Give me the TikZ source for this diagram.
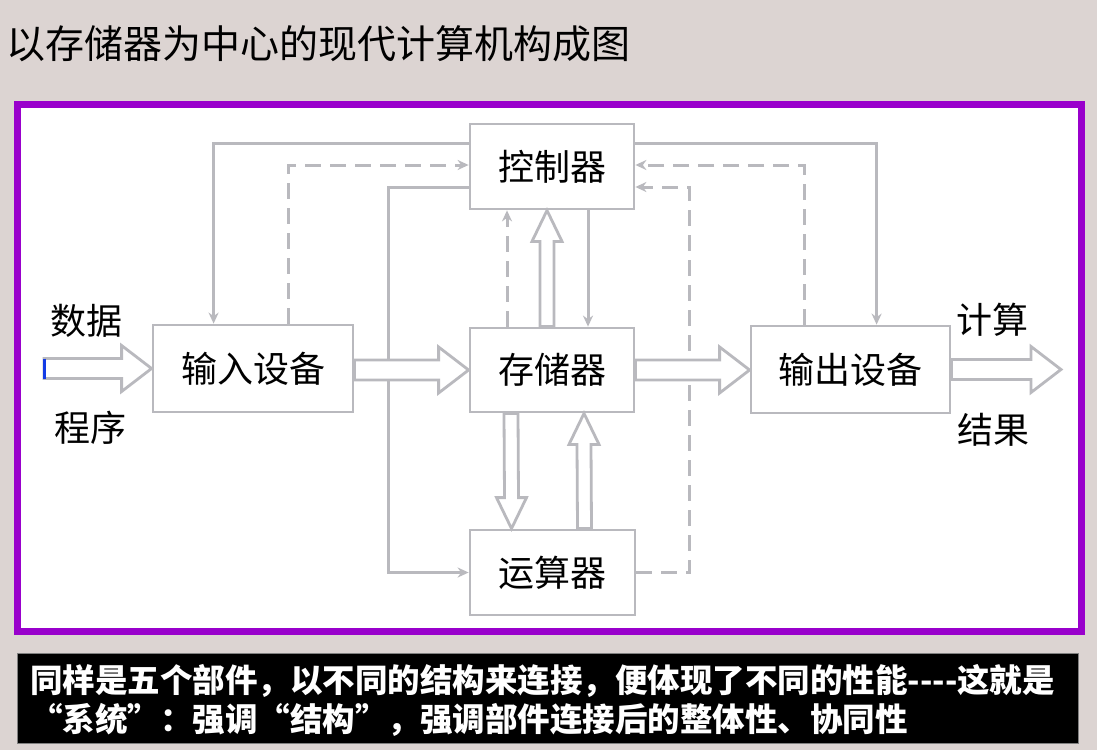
\documentclass[tikz,border=0pt]{standalone}
\usepackage{fontspec}
\setmainfont{Noto Sans CJK SC}
\usetikzlibrary{arrows.meta,calc}

\definecolor{bgtone}{RGB}{220,212,210}
\definecolor{framepurple}{RGB}{153,0,204}
\definecolor{diagray}{RGB}{185,185,190}
\definecolor{markblue}{RGB}{20,60,230}

\begin{document}
\begin{tikzpicture}[
    x={(1pt,0pt)},
    y={(0pt,-1pt)},
    line join=miter,
    box/.style={draw=diagray,line width=2.8pt,fill=white,inner sep=0pt,
        font=\fontsize{36}{40}\selectfont},
    link/.style={draw=diagray,line width=3pt,-{Stealth[length=11pt,width=10pt]}},
    ctrl/.style={link,dash pattern=on 16pt off 9pt},
    hollow/.style={draw=diagray,line width=2.8pt,fill=white},
    side/.style={font=\fontsize{36}{40}\selectfont}
]

% =========================================================
% Параметры
% =========================================================

\def\sw{10}    % half shaft, horizontal
\def\hw{23}    % half head, horizontal
\def\hl{30}    % head length, horizontal
\def\vsw{7}    % half shaft, vertical
\def\vhw{15}   % half head, vertical
\def\vhl{31}   % head length, vertical

% =========================================================
% Фон, рамка, заголовок
% =========================================================

\useasboundingbox (0,0) rectangle (1097,750);
\fill[bgtone] (0,0) rectangle (1097,750);
\draw[framepurple,line width=7pt,fill=white] (17.5,104.5) rectangle (1081.5,631.5);

\node[anchor=west,font=\fontsize{39}{42}\selectfont] (title) at (3,44)
    {以存储器为中心的现代计算机构成图};

% =========================================================
% Блоки
% =========================================================

\node[box,minimum width=200pt,minimum height=87pt] (in)  at (253,368.5) {输入设备};
\node[box,minimum width=164pt,minimum height=85pt] (ctl) at (552,166.5) {控制器};
\node[box,minimum width=164pt,minimum height=84pt] (mem) at (552,370)   {存储器};
\node[box,minimum width=165pt,minimum height=85pt] (alu) at (552.5,572.5) {运算器};
\node[box,minimum width=199pt,minimum height=87pt] (out) at (850.5,369.5) {输出设备};

\node[side] (data) at (86,321)  {数据};
\node[side] (prog) at (90,428)  {程序};
\node[side] (calc) at (992,320) {计算};
\node[side] (res)  at (993,430) {结果};

\coordinate (dataL) at (44,368.5);
\coordinate (resR)  at (1061,369.5);

% =========================================================
% Управляющие линии (сплошные)
% =========================================================

\draw[link] ($(ctl.west)+(0,-23.5)$) -| ($(in.north west)+(62,0)$);
\draw[link] ($(ctl.west)+(0,20.5)$) -- ++(-80,0) |- (alu.west);
\draw[link] ($(ctl.east)+(0,-23.5)$) -| ($(out.north west)+(127,0)$);
\draw[link] ($(ctl.south)+(36,0)$) -- ($(mem.north)+(36,0)$);

% =========================================================
% Линии состояния (штриховые)
% =========================================================

\draw[ctrl] ($(in.north west)+(137,0)$) |- ($(ctl.west)+(0,-1.5)$);
\draw[ctrl] ($(out.north west)+(55,0)$) |- ($(ctl.east)+(0,-1.5)$);
\draw[ctrl] (alu.east) -- ++(53,0) |- ($(ctl.east)+(0,20.5)$);
\draw[ctrl] ($(mem.north)+(-45,0)$) -- ($(ctl.south)+(-45,0)$);

% =========================================================
% Потоки данных (полые стрелки)
% =========================================================

\coordinate (a1) at (in.east |- mem.west);
\coordinate (a2) at (out.west |- mem.east);

\draw[hollow] ($(dataL)+(0,-\sw)$) -- ($(in.west)+(-\hl,-\sw)$) -- ($(in.west)+(-\hl,-\hw)$)
    -- (in.west) -- ($(in.west)+(-\hl,\hw)$) -- ($(in.west)+(-\hl,\sw)$) -- ($(dataL)+(0,\sw)$) -- cycle;
\draw[markblue,line width=3pt] ($(dataL)+(0,-\sw)$) -- ($(dataL)+(0,\sw)$);

\draw[hollow] ($(a1)+(0,-\sw)$) -- ($(mem.west)+(-\hl,-\sw)$) -- ($(mem.west)+(-\hl,-\hw)$)
    -- (mem.west) -- ($(mem.west)+(-\hl,\hw)$) -- ($(mem.west)+(-\hl,\sw)$) -- ($(a1)+(0,\sw)$) -- cycle;

\draw[hollow] ($(mem.east)+(0,-\sw)$) -- ($(a2)+(-\hl,-\sw)$) -- ($(a2)+(-\hl,-\hw)$)
    -- (a2) -- ($(a2)+(-\hl,\hw)$) -- ($(a2)+(-\hl,\sw)$) -- ($(mem.east)+(0,\sw)$) -- cycle;

\draw[hollow] ($(out.east)+(0,-\sw)$) -- ($(resR)+(-\hl,-\sw)$) -- ($(resR)+(-\hl,-\hw)$)
    -- (resR) -- ($(resR)+(-\hl,\hw)$) -- ($(resR)+(-\hl,\sw)$) -- ($(out.east)+(0,\sw)$) -- cycle;

% вверх: память -> управление
\draw[hollow] ($(mem.north)+(-5-\vsw,0)$) -- ($(ctl.south)+(-5-\vsw,\vhl)$) -- ($(ctl.south)+(-5-\vhw,\vhl)$)
    -- ($(ctl.south)+(-5,0)$) -- ($(ctl.south)+(-5+\vhw,\vhl)$) -- ($(ctl.south)+(-5+\vsw,\vhl)$)
    -- ($(mem.north)+(-5+\vsw,0)$) -- cycle;

% вниз: память -> АЛУ
\draw[hollow] ($(mem.south)+(-41-\vsw,0)$) -- ($(alu.north)+(-41-\vsw,-\vhl)$) -- ($(alu.north)+(-41-\vhw,-\vhl)$)
    -- ($(alu.north)+(-41,0)$) -- ($(alu.north)+(-41+\vhw,-\vhl)$) -- ($(alu.north)+(-41+\vsw,-\vhl)$)
    -- ($(mem.south)+(-41+\vsw,0)$) -- cycle;

% вверх: АЛУ -> память
\draw[hollow] ($(alu.north)+(32-\vsw,0)$) -- ($(mem.south)+(32-\vsw,\vhl)$) -- ($(mem.south)+(32-\vhw,\vhl)$)
    -- ($(mem.south)+(32,0)$) -- ($(mem.south)+(32+\vhw,\vhl)$) -- ($(mem.south)+(32+\vsw,\vhl)$)
    -- ($(alu.north)+(32+\vsw,0)$) -- cycle;

% =========================================================
% Пояснение внизу
% =========================================================

\fill[black,draw=gray,line width=1pt] (17,653) rectangle (1078,743);
\node[anchor=west,align=left,text=white,inner sep=0pt,
    font=\fontsize{32.5}{39}\selectfont\bfseries] (note) at (30,700)
    {同样是五个部件，以不同的结构来连接，便体现了不同的性能-{}-{}-{}-这就是\\
     “系统”：强调“结构”，强调部件连接后的整体性、协同性};

\end{tikzpicture}
\end{document}
